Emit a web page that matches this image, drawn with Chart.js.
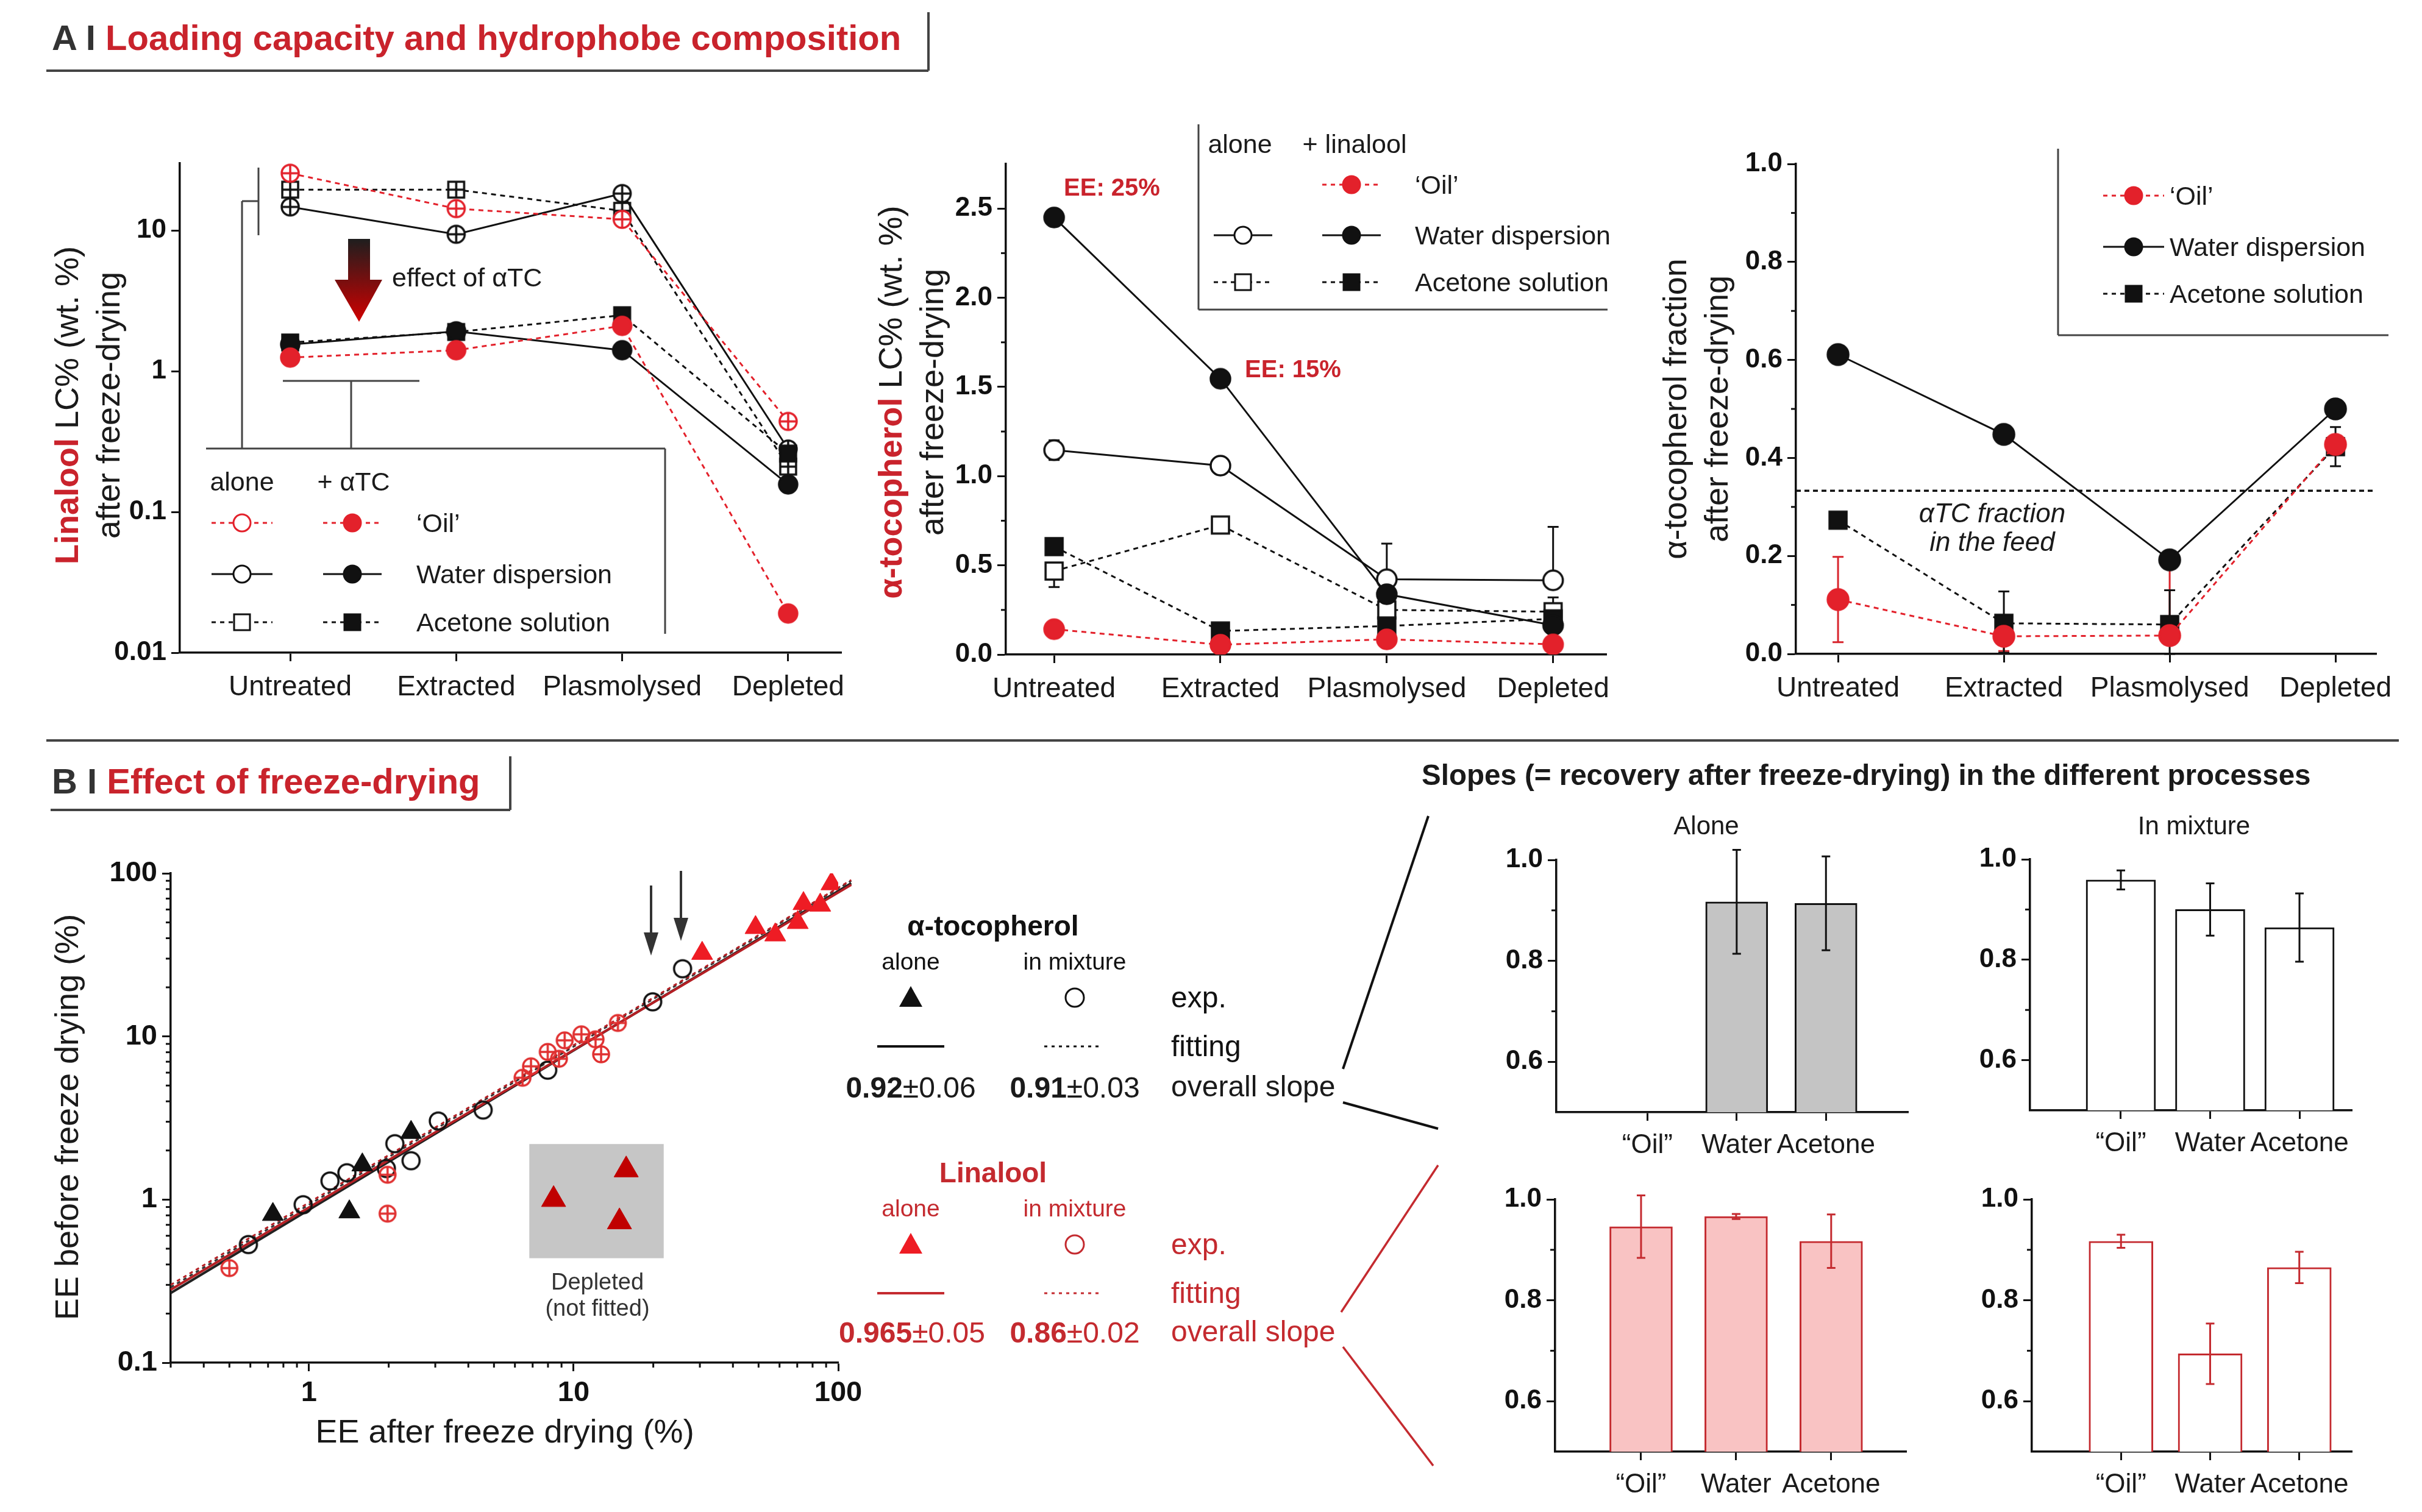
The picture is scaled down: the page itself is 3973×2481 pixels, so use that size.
<!DOCTYPE html>
<html lang="en">
<head>
<meta charset="UTF-8">
<title>Loading capacity and effect of freeze-drying</title>
<script src="https://cdn.jsdelivr.net/npm/chart.js"></script>
<style>
  body { margin: 0; background: #fff; font-family: "Liberation Sans", Arial, sans-serif; color: #1a1a1a; }
  #page { position: relative; width: 3973px; height: 2481px; overflow: hidden; background: #fff; }
  canvas { position: absolute; z-index: 1; }
  #ov { position: absolute; left: 0; top: 0; z-index: 2; }
  .t { position: absolute; white-space: nowrap; line-height: 1; z-index: 3; }
</style>
</head>
<body>
<div id="page"><svg id="ov" width="3973" height="2481"></svg></div>
<script>
// ---- data ----
const stages = ["Untreated", "Extracted", "Plasmolysed", "Depleted"];

// A left: linalool LC% (log)
const linOilAlone = [25.5, 14.3, 12.0, 0.44];
const linWaterAlone = [14.7, 9.4, 18.3, 0.28];
const linAcetoneAlone = [19.5, 19.5, 13.8, 0.21];
const linOilMix = [1.25, 1.41, 2.1, 0.019];
const linWaterMix = [1.55, 1.92, 1.41, 0.157];
const linAcetoneMix = [1.6, 1.9, 2.5, 0.26];

// A middle: alpha-tocopherol LC%
const tocWaterAlone = [1.146, 1.059, 0.422, 0.416];
const tocWaterAloneErrUp = [0.055, 0.02, 0.2, 0.3];
const tocWaterAloneErrDn = [0.055, 0.02, 0, 0];
const tocAcetoneAlone = [0.468, 0.726, 0.25, 0.24];
const tocAcetoneAloneErrUp = [0, 0.02, 0.03, 0.08];
const tocAcetoneAloneErrDn = [0.09, 0.02, 0.03, 0];
const tocOilMix = [0.142, 0.055, 0.085, 0.057];
const tocWaterMix = [2.45, 1.546, 0.338, 0.164];
const tocAcetoneMix = [0.605, 0.132, 0.16, 0.2];

// A right: alpha-tocopherol fraction
const fracOil = [0.111, 0.036, 0.0375, 0.4275];
const fracOilErrUp = [0.087, 0, 0.14, 0.012];
const fracOilErrDn = [0.087, 0.03, 0, 0.012];
const fracWater = [0.611, 0.448, 0.192, 0.5];
const fracAcetone = [0.273, 0.0625, 0.06, 0.423];
const fracAcetoneErrUp = [0, 0.065, 0.07, 0.04];
const fracAcetoneErrDn = [0, 0.06, 0.06, 0.04];
const feedFraction = 0.333;

// B: EE after (x) vs before (y) freeze drying
const tocMixAfter = [0.59, 0.95, 1.2, 1.39, 1.96, 2.11, 2.43, 3.08, 4.55, 7.98, 19.9, 25.8];
const tocMixBefore = [0.53, 0.93, 1.3, 1.46, 1.55, 2.2, 1.73, 3.03, 3.54, 6.21, 16.3, 26];
const tocAloneAfter = [0.73, 1.42, 1.59, 2.43];
const tocAloneBefore = [0.81, 0.84, 1.63, 2.58];
const linMixAfter = [0.5, 1.98, 1.98, 6.41, 6.9, 7.98, 8.8, 9.25, 10.7, 12.1, 12.7, 14.7];
const linMixBefore = [0.38, 1.42, 0.82, 5.58, 6.56, 8.04, 7.3, 9.46, 10.3, 9.6, 7.77, 12.1];
const linAloneAfter = [30.6, 48.7, 57.8, 70.3, 73.9, 85.5, 94.3];
const linAloneBefore = [32.3, 46.5, 41.9, 49.9, 65.2, 63.8, 86.3];
const depletedAfter = [8.4, 15.8, 14.9];
const depletedBefore = [1.0, 1.52, 0.73];
const fitX = [0.3, 112];
const fitTocAlone = [0.267, 87];
const fitTocMix = [0.29, 90];
const fitLinAlone = [0.28, 85];
const fitLinMix = [0.30, 91];
const depletedBox = [6.8, 21.9, 0.437, 2.19];

// B bars: slopes
const vehicles = ["\u201COil\u201D", "Water", "Acetone"];
const tocAloneSlope = [null, 0.917, 0.914];
const tocAloneSlopeErr = [0, 0.103, 0.093];
const tocMixSlope = [0.959, 0.9, 0.864];
const tocMixSlopeErr = [0.019, 0.052, 0.068];
const linAloneSlope = [0.946, 0.966, 0.917];
const linAloneSlopeErr = [0.062, 0.005, 0.053];
const linMixSlope = [0.917, 0.694, 0.865];
const linMixSlopeErr = [0.013, 0.06, 0.031];

// ---- helpers ----
const page = document.getElementById('page');
const ov = document.getElementById('ov');
const RED = '#e3212b', TRED = '#c9232c', BRED = '#c42a2f', BLK = '#111';
Chart.defaults.font.family = '"Liberation Sans", Arial, sans-serif';
Chart.defaults.color = '#1a1a1a';

function drawErr(chart, front) {
  const ctx = chart.ctx, ys = chart.scales.y;
  chart.data.datasets.forEach((ds, i) => {
    if (!ds.errUp || !!ds.errFront !== front) return;
    const meta = chart.getDatasetMeta(i);
    ctx.save();
    ctx.strokeStyle = ds.errColor || ds.borderColor;
    ctx.lineWidth = 3;
    meta.data.forEach((el, j) => {
      const v = ds.data[j].y;
      if (v == null) return;
      const up = ds.errUp[j], dn = ds.errDn ? ds.errDn[j] : up, cap = ds.errCap || 9;
      const yt = ys.getPixelForValue(v + up), yb = ys.getPixelForValue(v - dn);
      ctx.beginPath();
      ctx.moveTo(el.x, yt); ctx.lineTo(el.x, yb);
      if (up > 0) { ctx.moveTo(el.x - cap, yt); ctx.lineTo(el.x + cap, yt); }
      if (dn > 0) { ctx.moveTo(el.x - cap, yb); ctx.lineTo(el.x + cap, yb); }
      ctx.stroke();
    });
    ctx.restore();
  });
}
const errorBars = { id: 'errorBars', beforeDatasetsDraw: c => drawErr(c, false), afterDatasetsDraw: c => drawErr(c, true) };

const minorTicks = {
  id: 'minorTicks',
  afterDraw(chart, args, opts) {
    const ctx = chart.ctx, a = chart.chartArea, len = opts.len || 8;
    ctx.save(); ctx.strokeStyle = BLK; ctx.lineWidth = 3;
    (opts.y || []).forEach(v => {
      const p = chart.scales.y.getPixelForValue(v);
      ctx.beginPath(); ctx.moveTo(a.left, p); ctx.lineTo(a.left - len, p); ctx.stroke();
    });
    (opts.x || []).forEach(v => {
      const p = chart.scales.x.getPixelForValue(v);
      ctx.beginPath(); ctx.moveTo(p, a.bottom); ctx.lineTo(p, a.bottom + len); ctx.stroke();
    });
    ctx.restore();
  }
};
Chart.register(errorBars, minorTicks);

function marker(kind, r, stroke, fill, plus) {
  const s = Math.ceil(2 * r + 8), c = document.createElement('canvas');
  c.width = c.height = s;
  const g = c.getContext('2d'), m = s / 2;
  g.lineWidth = 3.5; g.strokeStyle = stroke; g.fillStyle = fill;
  g.beginPath();
  if (kind === 'circle') g.arc(m, m, r, 0, 2 * Math.PI);
  else g.rect(m - r, m - r, 2 * r, 2 * r);
  g.fill(); g.stroke();
  if (plus) {
    g.beginPath();
    g.moveTo(m - r, m); g.lineTo(m + r, m);
    g.moveTo(m, m - r); g.lineTo(m, m + r);
    g.stroke();
  }
  return c;
}

function makeChart(box, cfg) {
  const padT = 40, padR = 70, yW = 150, xH = 110;
  const c = document.createElement('canvas');
  const w = box.r - box.l + yW + padR, h = box.b - box.t + padT + xH;
  c.width = w; c.height = h;
  c.style.left = (box.l - yW) + 'px'; c.style.top = (box.t - padT) + 'px';
  c.style.width = w + 'px'; c.style.height = h + 'px';
  page.appendChild(c);
  Object.assign(cfg.options, {
    responsive: false, devicePixelRatio: 1, animation: false,
    layout: { padding: { top: padT, right: padR, left: 0, bottom: 0 }, autoPadding: false }
  });
  cfg.options.plugins = Object.assign({ legend: { display: false }, tooltip: { enabled: false } }, cfg.options.plugins);
  cfg.options.scales.x.afterFit = s => { s.height = xH; };
  cfg.options.scales.y.afterFit = s => { s.width = yW; };
  return new Chart(c, cfg);
}

const axisStyle = () => ({
  offset: false,
  grid: { drawOnChartArea: false, offset: false, tickLength: 14, color: BLK, tickWidth: 3 },
  border: { color: BLK, width: 3.5 }
});
function catAxis(min, max, labels, size, pad) {
  return Object.assign(axisStyle(), {
    type: 'linear', min, max,
    afterBuildTicks: s => { s.ticks = labels.map((_, i) => ({ value: i })); },
    ticks: { callback: v => labels[v], font: { size }, color: '#1a1a1a', padding: pad, maxRotation: 0, autoSkip: false }
  });
}
function valAxis(type, min, max, ticks, fmt, size) {
  return Object.assign(axisStyle(), {
    type, min, max,
    afterBuildTicks: s => { s.ticks = ticks.map(v => ({ value: v })); },
    ticks: { callback: fmt, font: { size, weight: 'bold' }, color: '#111', padding: 8, autoSkip: false }
  });
}
const series = (vals, color, dash, style, r, extra) => Object.assign({
  data: stages.map((_, i) => ({ x: i, y: vals[i] })),
  borderColor: color, borderWidth: 3, borderDash: dash, pointStyle: style,
  pointRadius: r, pointHoverRadius: r, tension: 0
}, extra || {});
const pts = (xs, ys) => xs.map((x, i) => ({ x, y: ys[i] }));

function txt(x, y, html, css, anchor) {
  const d = document.createElement('div');
  d.className = 't'; d.innerHTML = html;
  d.style.cssText += css || '';
  d.style.left = x + 'px'; d.style.top = y + 'px';
  d.style.transform = { c: 'translate(-50%,-50%)', r: 'translate(-100%,-50%)', l: 'translate(0,-50%)',
    rot: 'translate(-50%,-50%) rotate(-90deg)' }[anchor || 'l'];
  page.appendChild(d);
}
function sv(tag, attrs) {
  const e = document.createElementNS('http://www.w3.org/2000/svg', tag);
  for (const k in attrs) e.setAttribute(k, attrs[k]);
  ov.appendChild(e); return e;
}
function line(x1, y1, x2, y2, color, w, dash) {
  sv('line', { x1, y1, x2, y2, stroke: color, 'stroke-width': w, 'stroke-dasharray': dash || 'none' });
}
function legSym(cx, cy, half, color, dash, kind, fill) {
  line(cx - half, cy, cx + half, cy, color, 3, dash);
  if (kind === 'circle') sv('circle', { cx, cy, r: 14, fill, stroke: color, 'stroke-width': 3 });
  else sv('rect', { x: cx - 13, y: cy - 13, width: 26, height: 26, fill, stroke: color, 'stroke-width': 3 });
}

const DOT = [8, 7];

// ---- A left: linalool LC% ----
makeChart({ l: 295, r: 1380, t: 268, b: 1071 }, {
  type: 'line',
  data: { datasets: [
    series(linOilMix, RED, DOT, marker('circle', 15, RED, RED), 15),
    series(linWaterMix, BLK, [], marker('circle', 15, BLK, BLK), 15),
    series(linAcetoneMix, BLK, DOT, marker('square', 13, BLK, BLK), 15),
    series(linOilAlone, RED, DOT, marker('circle', 14, RED, '#fff', true), 14),
    series(linWaterAlone, BLK, [], marker('circle', 14, BLK, '#fff', true), 14),
    series(linAcetoneAlone, BLK, DOT, marker('square', 13, BLK, '#fff', true), 14)
  ] },
  options: { scales: {
    x: catAxis(-0.665, 3.32, stages, 46, 16),
    y: valAxis('logarithmic', 0.01, 30, [0.01, 0.1, 1, 10], v => String(v), 44)
  } }
});

// ---- A middle: alpha-tocopherol LC% ----
makeChart({ l: 1650, r: 2635, t: 269, b: 1074 }, {
  type: 'line',
  data: { datasets: [
    series(tocOilMix, RED, DOT, marker('circle', 16, RED, RED), 16),
    series(tocWaterMix, BLK, [], marker('circle', 16, BLK, BLK), 16),
    series(tocAcetoneMix, BLK, DOT, marker('square', 14, BLK, BLK), 16),
    series(tocWaterAlone, BLK, [], marker('circle', 16, BLK, '#fff'), 16,
      { errUp: tocWaterAloneErrUp, errDn: tocWaterAloneErrDn }),
    series(tocAcetoneAlone, BLK, DOT, marker('square', 14, BLK, '#fff'), 16,
      { errUp: tocAcetoneAloneErrUp, errDn: tocAcetoneAloneErrDn })
  ] },
  options: {
    scales: {
      x: catAxis(-0.29, 3.32, stages, 46, 16),
      y: valAxis('linear', 0, 2.75, [0, 0.5, 1, 1.5, 2, 2.5], v => v.toFixed(1), 44)
    },
    plugins: { minorTicks: { y: [0.25, 0.75, 1.25, 1.75, 2.25], len: 8 } }
  }
});

// ---- A right: alpha-tocopherol fraction ----
makeChart({ l: 2946, r: 3898, t: 269, b: 1073 }, {
  type: 'line',
  data: { datasets: [
    series(fracOil, RED, DOT, marker('circle', 17, RED, RED), 17,
      { errUp: fracOilErrUp, errDn: fracOilErrDn, errColor: '#d8252d' }),
    series(fracAcetone, BLK, DOT, marker('square', 14, BLK, BLK), 17,
      { errUp: fracAcetoneErrUp, errDn: fracAcetoneErrDn }),
    series(fracWater, BLK, [], marker('circle', 17, BLK, BLK), 17)
  ] },
  options: {
    scales: {
      x: catAxis(-0.254, 3.246, stages, 46, 16),
      y: valAxis('linear', 0, 1, [0, 0.2, 0.4, 0.6, 0.8, 1], v => v.toFixed(1), 44)
    },
    plugins: { minorTicks: { y: [0.1, 0.3, 0.5, 0.7, 0.9], len: 8 } }
  },
  plugins: [{
    id: 'feedLine',
    beforeDatasetsDraw(chart) {
      const ctx = chart.ctx, a = chart.chartArea, p = chart.scales.y.getPixelForValue(feedFraction);
      ctx.save(); ctx.strokeStyle = BLK; ctx.lineWidth = 3.5; ctx.setLineDash([8, 6]);
      ctx.beginPath(); ctx.moveTo(a.left, p); ctx.lineTo(a.right, p); ctx.stroke(); ctx.restore();
    }
  }]
});

// ---- B: scatter EE before vs after ----
const minorLog = [0.2, 0.3, 0.4, 0.5, 0.6, 0.7, 0.8, 0.9, 2, 3, 4, 5, 6, 7, 8, 9, 20, 30, 40, 50, 60, 70, 80, 90];
makeChart({ l: 280, r: 1375, t: 1433, b: 2236 }, {
  type: 'scatter',
  data: { datasets: [
    { data: pts(linAloneAfter, linAloneBefore), pointStyle: 'triangle', pointRadius: 20, backgroundColor: '#ee1c24', borderColor: '#ee1c24', borderWidth: 1 },
    { data: pts(tocAloneAfter, tocAloneBefore), pointStyle: 'triangle', pointRadius: 20, backgroundColor: BLK, borderColor: BLK, borderWidth: 1 },
    { data: pts(depletedAfter, depletedBefore), pointStyle: 'triangle', pointRadius: 23, backgroundColor: '#c00000', borderColor: '#c00000', borderWidth: 1 },
    { data: pts(linMixAfter, linMixBefore), pointStyle: marker('circle', 13, '#e03030', 'rgba(255,255,255,0)', true), pointRadius: 13 },
    { data: pts(tocMixAfter, tocMixBefore), pointStyle: marker('circle', 14, BLK, 'rgba(255,255,255,0)'), pointRadius: 14 },
    { data: pts(fitX, fitLinMix), showLine: true, borderColor: '#b51f24', borderWidth: 3, borderDash: [6, 6], pointRadius: 0, clip: false },
    { data: pts(fitX, fitTocMix), showLine: true, borderColor: '#333', borderWidth: 3, borderDash: [6, 6], pointRadius: 0, clip: false },
    { data: pts(fitX, fitLinAlone), showLine: true, borderColor: '#b51f24', borderWidth: 4, pointRadius: 0, clip: false },
    { data: pts(fitX, fitTocAlone), showLine: true, borderColor: '#222', borderWidth: 4, pointRadius: 0, clip: false }
  ] },
  options: {
    scales: {
      x: valAxis('logarithmic', 0.3, 100, [1, 10, 100], v => String(v), 47),
      y: valAxis('logarithmic', 0.1, 100, [0.1, 1, 10, 100], v => String(v), 47)
    },
    plugins: { minorTicks: { x: minorLog.filter(v => v >= 0.3), y: minorLog, len: 8 } }
  },
  plugins: [{
    id: 'depletedBox',
    beforeDatasetsDraw(chart) {
      const ctx = chart.ctx, xs = chart.scales.x, ys = chart.scales.y;
      const x0 = xs.getPixelForValue(depletedBox[0]), x1 = xs.getPixelForValue(depletedBox[1]);
      const y0 = ys.getPixelForValue(depletedBox[3]), y1 = ys.getPixelForValue(depletedBox[2]);
      ctx.save(); ctx.fillStyle = '#c6c6c6'; ctx.fillRect(x0, y0, x1 - x0, y1 - y0); ctx.restore();
    }
  }]
});

// ---- B: slope bar charts ----
function barChart(box, vals, errs, fill, stroke, width, min, max) {
  makeChart(box, {
    type: 'bar',
    data: { datasets: [{
      data: vals.map((v, i) => ({ x: i, y: v })),
      backgroundColor: fill, borderColor: stroke, borderWidth: 3, barThickness: width,
      errUp: errs, errFront: true, errColor: stroke, errCap: 7
    }] },
    options: {
      scales: {
        x: catAxis(min, max, vehicles, 44, 14),
        y: valAxis('linear', 0.5, 1.0, [0.6, 0.8, 1.0], v => v.toFixed(1), 44)
      },
      plugins: { minorTicks: { y: [0.7, 0.9], len: 8 } }
    }
  });
}
barChart({ l: 2553, r: 3130, t: 1411, b: 1825 }, tocAloneSlope, tocAloneSlopeErr, '#c4c4c4', BLK, 102, -1.02, 2.92);
barChart({ l: 3330, r: 3858, t: 1410, b: 1822 }, tocMixSlope, tocMixSlopeErr, '#fff', BLK, 114, -1.017, 2.587);
barChart({ l: 2551, r: 3127, t: 1968, b: 2382 }, linAloneSlope, linAloneSlopeErr, '#f9c3c3', BRED, 103, -0.904, 2.79);
barChart({ l: 3333, r: 3858, t: 1968, b: 2382 }, linMixSlope, linMixSlopeErr, '#fff', BRED, 105, -1.0, 2.59);

// ---- titles, frames and annotations ----
const G = '#444';
txt(85, 62, '<span style="color:#333">A I </span><span style="color:' + TRED + '">Loading capacity and hydrophobe composition</span>', 'font-weight:bold;font-size:58px;');
line(76, 116, 1523, 116, G, 4); line(1523, 20, 1523, 116, G, 4);
line(76, 1215, 3935, 1215, G, 4);
txt(85, 1282, '<span style="color:#333">B I </span><span style="color:' + TRED + '">Effect of freeze-drying</span>', 'font-weight:bold;font-size:58px;');
line(83, 1329, 837, 1329, G, 4); line(837, 1241, 837, 1329, G, 4);

// axis titles
const AT = 'font-size:54px;line-height:68px;text-align:center;';
txt(143, 665, '<span style="color:' + TRED + ';font-weight:bold">Linalool</span> LC% (wt. %)<br>after freeze-drying', AT, 'rot');
txt(1494, 660, '<span style="color:' + TRED + ';font-weight:bold">\u03b1-tocopherol</span> LC% (wt. %)<br>after freeze-drying', AT, 'rot');
txt(2781, 671, '\u03b1-tocopherol fraction<br>after freeze-drying', AT, 'rot');
txt(109, 1833, 'EE before freeze drying (%)', 'font-size:54px;', 'rot');
txt(828, 2348, 'EE after freeze drying (%)', 'font-size:54px;', 'c');

// A left legend, brackets and arrow
const LF = 'font-size:43px;';
line(338, 736, 1091, 736, G, 3); line(1091, 736, 1091, 1040, G, 3);
line(397, 330, 397, 736, G, 3); line(397, 330, 424, 330, G, 3); line(424, 275, 424, 386, G, 3);
line(464, 625, 688, 625, G, 3); line(576, 625, 576, 736, G, 3);
txt(397, 790, 'alone', LF, 'c'); txt(580, 790, '+ \u03b1TC', LF, 'c');
legSym(397, 858, 50, RED, '7 7', 'circle', '#fff'); legSym(578, 858, 48, RED, '7 7', 'circle', RED); txt(683, 858, '\u2018Oil\u2019', LF);
legSym(397, 942, 50, BLK, '', 'circle', '#fff'); legSym(578, 942, 48, BLK, '', 'circle', BLK); txt(683, 942, 'Water dispersion', LF);
legSym(397, 1021, 50, BLK, '7 7', 'rect', '#fff'); legSym(578, 1021, 48, BLK, '7 7', 'rect', BLK); txt(683, 1021, 'Acetone solution', LF);
const grad = sv('linearGradient', { id: 'ag', x1: 0, y1: 0, x2: 0, y2: 1 });
const st1 = document.createElementNS('http://www.w3.org/2000/svg', 'stop');
st1.setAttribute('offset', '0'); st1.setAttribute('stop-color', '#1e1e1e'); grad.appendChild(st1);
const st2 = document.createElementNS('http://www.w3.org/2000/svg', 'stop');
st2.setAttribute('offset', '1'); st2.setAttribute('stop-color', '#d10000'); grad.appendChild(st2);
sv('polygon', { points: '571,392 607,392 607,459 627,459 589,528 549,459 571,459', fill: 'url(#ag)' });
txt(643, 455, 'effect of \u03b1TC', LF);

// A middle legend
line(1966, 204, 1966, 508, G, 3); line(1966, 508, 2637, 508, G, 3);
txt(2034, 236, 'alone', LF, 'c'); txt(2222, 236, '+ linalool', LF, 'c');
legSym(2217, 303, 48, RED, '7 7', 'circle', RED); txt(2321, 303, '\u2018Oil\u2019', LF);
legSym(2039, 386, 48, BLK, '', 'circle', '#fff'); legSym(2217, 386, 48, BLK, '', 'circle', BLK); txt(2321, 386, 'Water dispersion', LF);
legSym(2039, 463, 48, BLK, '7 7', 'rect', '#fff'); legSym(2217, 463, 48, BLK, '7 7', 'rect', BLK); txt(2321, 463, 'Acetone solution', LF);
txt(1824, 307, 'EE: 25%', 'font-size:40px;font-weight:bold;color:' + TRED, 'c');
txt(2121, 605, 'EE: 15%', 'font-size:40px;font-weight:bold;color:' + TRED, 'c');

// A right legend
line(3376, 244, 3376, 550, G, 3); line(3376, 550, 3918, 550, G, 3);
legSym(3500, 321, 50, RED, '7 7', 'circle', RED); txt(3559, 321, '\u2018Oil\u2019', LF);
legSym(3500, 405, 50, BLK, '', 'circle', BLK); txt(3559, 405, 'Water dispersion', LF);
legSym(3500, 482, 50, BLK, '7 7', 'rect', BLK); txt(3559, 482, 'Acetone solution', LF);
txt(3268, 842, '\u03b1TC fraction', 'font-size:44px;font-style:italic;', 'c');
txt(3268, 889, 'in the feed', 'font-size:44px;font-style:italic;', 'c');

// B scatter annotations
txt(980, 2103, 'Depleted', 'font-size:38px;color:#333;', 'c');
txt(980, 2146, '(not fitted)', 'font-size:38px;color:#333;', 'c');
line(1068, 1453, 1068, 1540, '#333', 4); sv('polygon', { points: '1056,1530 1080,1530 1068,1568', fill: '#333' });
line(1117, 1429, 1117, 1516, '#333', 4); sv('polygon', { points: '1105,1506 1129,1506 1117,1544', fill: '#333' });

// B middle key
function key(y0, color, name) {
  txt(1629, y0, name, 'font-size:46px;font-weight:bold;color:' + color, 'c');
  txt(1494, y0 + 58, 'alone', 'font-size:39px;color:' + color, 'c');
  txt(1763, y0 + 58, 'in mixture', 'font-size:39px;color:' + color, 'c');
  sv('polygon', { points: '1475,' + (y0 + 133) + ' 1513,' + (y0 + 133) + ' 1494,' + (y0 + 99), fill: color === BLK ? BLK : '#ee1c24' });
  sv('circle', { cx: 1763, cy: y0 + 118, r: 15, fill: 'none', stroke: color, 'stroke-width': 3 });
  txt(1921, y0 + 118, 'exp.', 'font-size:48px;color:' + color);
  line(1439, y0 + 198, 1549, y0 + 198, color, 4);
  line(1713, y0 + 198, 1806, y0 + 198, color, 3, '5 7');
  txt(1921, y0 + 198, 'fitting', 'font-size:48px;color:' + color);
}
key(1519, BLK, '\u03b1-tocopherol');
txt(1494, 1785, '<b>0.92</b>\u00b10.06', 'font-size:48px;', 'c');
txt(1763, 1785, '<b>0.91</b>\u00b10.03', 'font-size:48px;', 'c');
txt(1921, 1783, 'overall slope', 'font-size:48px;');
key(1924, BRED, 'Linalool');
txt(1496, 2187, '<b>0.965</b>\u00b10.05', 'font-size:48px;color:' + BRED, 'c');
txt(1763, 2187, '<b>0.86</b>\u00b10.02', 'font-size:48px;color:' + BRED, 'c');
txt(1921, 2185, 'overall slope', 'font-size:48px;color:' + BRED);

// connectors to bar charts
line(2203, 1754, 2343, 1339, BLK, 4); line(2203, 1809, 2359, 1852, BLK, 4);
line(2200, 2153, 2359, 1912, BRED, 3.5); line(2203, 2210, 2351, 2405, BRED, 3.5);

// bar titles
txt(2332, 1272, 'Slopes (= recovery after freeze-drying) in the different processes', 'font-size:47.5px;font-weight:bold;');
txt(2799, 1355, 'Alone', 'font-size:42px;', 'c');
txt(3599, 1355, 'In mixture', 'font-size:42px;', 'c');
</script>
</body>
</html>
